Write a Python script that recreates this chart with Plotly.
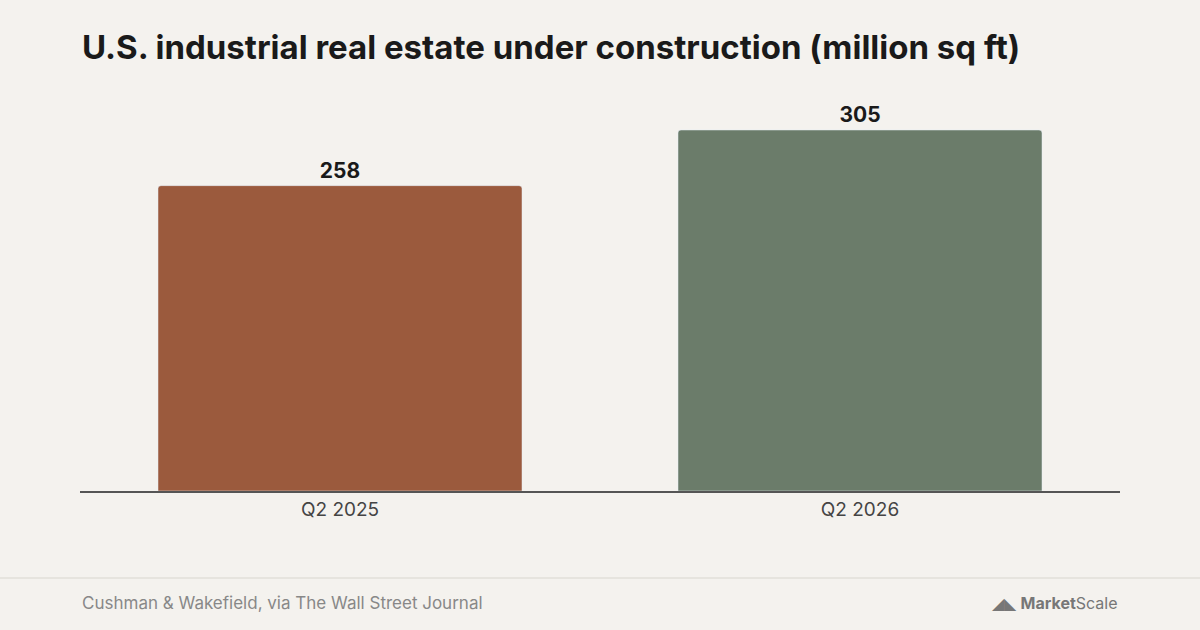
import plotly.graph_objects as go

categories = ["Q2 2025", "Q2 2026"]
values = [258, 305]
colors = ["#9b5a3d", "#6b7c6a"]
labels = ["258", "305"]

fig = go.Figure(go.Bar(
    x=categories, y=values, marker_color=colors, width=0.7,
    text=labels, textposition="outside", cliponaxis=False,
    textfont=dict(family="Inter", size=21, color="#1a1a1a", weight="bold"),
))
fig.update_layout(
    width=1200, height=630, paper_bgcolor="#f4f2ee", plot_bgcolor="#f4f2ee",
    margin=dict(l=80, r=80, t=90, b=139), barcornerradius=3, showlegend=False,
    font=dict(family="Inter"),
    xaxis=dict(showline=True, linecolor="#555", linewidth=1.5, ticks="",
               tickfont=dict(size=19, color="#444"), fixedrange=True),
    yaxis=dict(range=[0, 338.8], visible=False, showgrid=False),
    shapes=[dict(type="line", xref="paper", yref="paper", x0=-80/1040, x1=1120/1040,
                 y0=-87/401, y1=-87/401, line=dict(color="#e2dfd9", width=1.5))],
    annotations=[
        dict(text="<b>U.S. industrial real estate under construction (million sq ft)</b>",
             xref="paper", yref="paper", x=0, y=(401+43)/401, xanchor="left", yanchor="middle",
             showarrow=False, font=dict(size=33, color="#1a1a1a")),
        dict(text="Cushman & Wakefield, via The Wall Street Journal", xref="paper", yref="paper",
             x=0, y=-112/401, xanchor="left", yanchor="middle", showarrow=False,
             font=dict(size=17, color="#888")),
        dict(text="◢◣ <b>Market</b>Scale", xref="paper", yref="paper",
             x=1, y=-112/401, xanchor="right", yanchor="middle", showarrow=False,
             font=dict(size=16, color="#777")),
    ],
)
fig.write_html("out.html", config={"displayModeBar": False},
               post_script="document.body.style.margin='0';")
